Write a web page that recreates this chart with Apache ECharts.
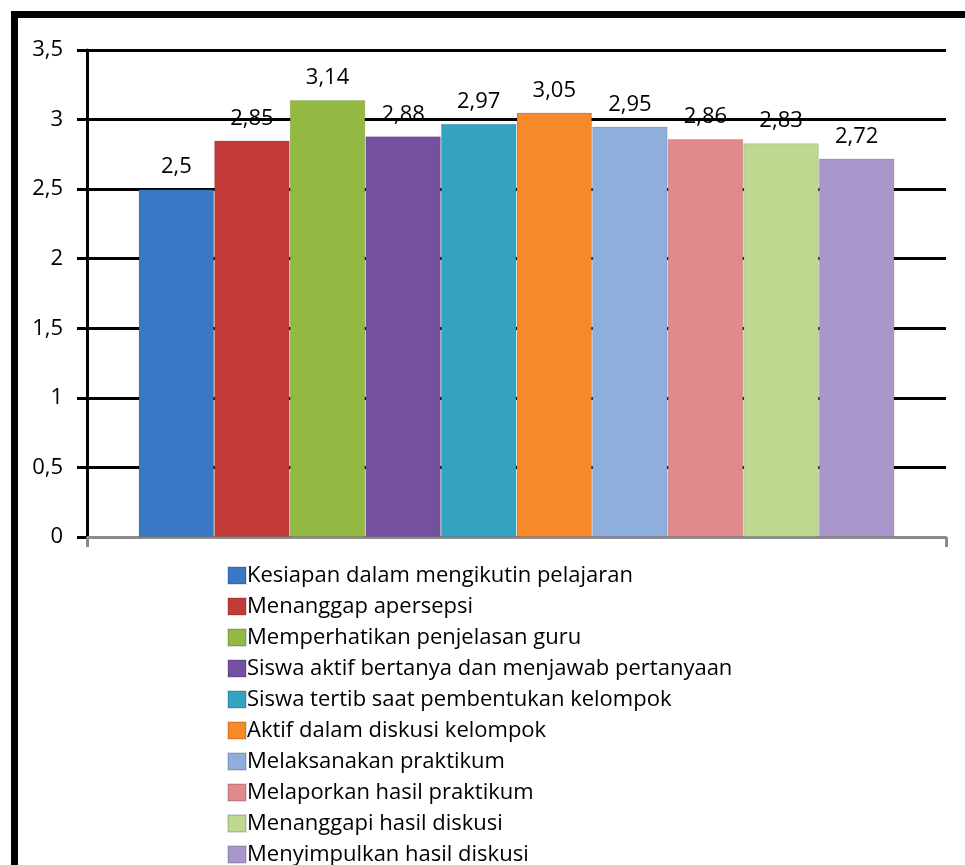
<!DOCTYPE html>
<html>
<head>
<meta charset="utf-8">
<script src="https://cdn.jsdelivr.net/npm/echarts@6/dist/echarts.min.js"></script>
<style>
  html, body { margin: 0; padding: 0; background: #fff; }
  #chart { width: 965px; height: 865px; }
</style>
</head>
<body>
<div id="chart"></div>
<script>
  // data
  var categories = [''];
  var seriesNames = [
    'Kesiapan dalam mengikutin pelajaran',
    'Menanggap apersepsi',
    'Memperhatikan penjelasan guru',
    'Siswa aktif bertanya dan menjawab pertanyaan',
    'Siswa tertib saat pembentukan kelompok',
    'Aktif dalam diskusi kelompok',
    'Melaksanakan praktikum',
    'Melaporkan hasil praktikum',
    'Menanggapi hasil diskusi',
    'Menyimpulkan hasil diskusi'
  ];
  var values = [2.5, 2.85, 3.14, 2.88, 2.97, 3.05, 2.95, 2.86, 2.83, 2.72];
  var colors = ['#3a78c6', '#c23b38', '#93b942', '#7350a0', '#33a3c1',
                '#f68a2a', '#8eaedc', '#e08a8c', '#bcd98f', '#a997cb'];

  var fontFam = '"Open Sans", "Noto Sans", sans-serif';

  function comma(v) {
    return String(v).replace('.', ',');
  }

  var series = seriesNames.map(function (name, i) {
    return {
      name: name,
      type: 'bar',
      barGap: '0%',
      barCategoryGap: '12%',
      data: [values[i]],
      itemStyle: { color: colors[i], borderColor: 'rgba(0,0,0,0.12)', borderWidth: 1 },
      label: {
        show: true,
        position: 'top',
        distance: 11,
        color: '#000',
        fontSize: 22,
        fontFamily: fontFam,
        formatter: function (p) { return comma(p.value); }
      }
    };
  });

  var chart = echarts.init(document.getElementById('chart'));
  var option = {
    animation: false,
    color: colors,
    graphic: [{
      type: 'rect',
      shape: { x: 14.5, y: 14.5, width: 1200, height: 1200 },
      style: { fill: 'none', stroke: '#000', lineWidth: 7 },
      silent: true
    }],
    grid: { left: 87, right: 19, top: 50, bottom: 328 },
    legend: {
      orient: 'vertical',
      left: 227,
      top: 564,
      height: 302,
      padding: 0,
      icon: 'rect',
      itemWidth: 18,
      itemHeight: 17,
      itemGap: 8,
      textStyle: { fontSize: 22, lineHeight: 23, fontFamily: fontFam, color: '#000', padding: [0, 0, 0, -4] },
      data: seriesNames
    },
    xAxis: {
      type: 'category',
      data: categories,
      axisLine: { lineStyle: { color: '#8c8c8c', width: 3 } },
      axisTick: { show: true, length: 10, lineStyle: { color: '#8c8c8c', width: 3 } },
      axisLabel: { show: false }
    },
    yAxis: {
      type: 'value',
      min: 0,
      max: 3.5,
      interval: 0.5,
      axisLine: { show: true, lineStyle: { color: '#000', width: 3 } },
      axisTick: { show: true, length: 10, lineStyle: { color: '#000', width: 3 } },
      splitLine: { lineStyle: { color: '#000', width: 3 } },
      axisLabel: {
        color: '#000',
        fontSize: 22,
        fontFamily: fontFam,
        margin: 24,
        formatter: function (v) { return comma(v); }
      }
    },
    series: series
  };
  chart.setOption(option);
</script>
</body>
</html>
